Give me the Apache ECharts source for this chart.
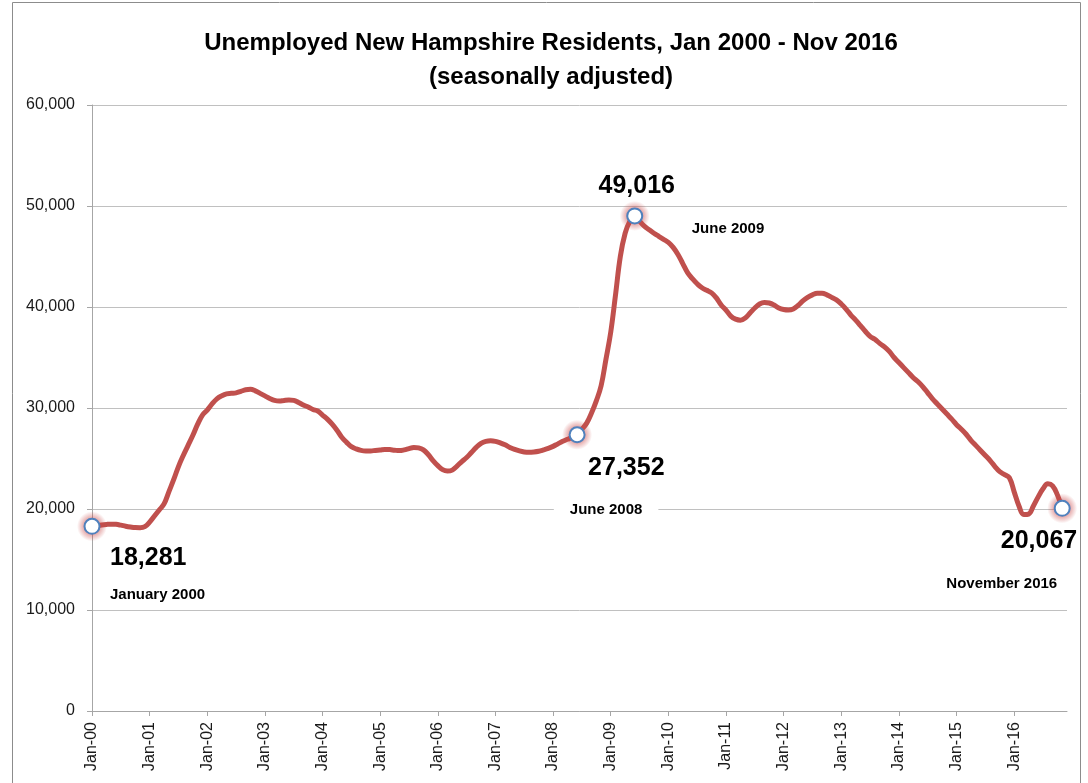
<!DOCTYPE html>
<html>
<head>
<meta charset="utf-8">
<title>Unemployed New Hampshire Residents</title>
<script src="https://cdn.jsdelivr.net/npm/echarts@6/dist/echarts.min.js"></script>
<style>
  html, body { margin: 0; padding: 0; background: #ffffff; }
  #chart { width: 1088px; height: 783px; }
</style>
</head>
<body>
<div id="chart"></div>
<script>
// Monthly unemployed residents, seasonally adjusted, one array per calendar year
const y2000 = [18281, 18350, 18420, 18470, 18500, 18480, 18400, 18300, 18220, 18160, 18150, 18250];
const y2001 = [18700, 19300, 19900, 20500, 21700, 22900, 24200, 25300, 26300, 27300, 28400, 29300];
const y2002 = [29800, 30400, 30900, 31200, 31400, 31450, 31500, 31650, 31800, 31850, 31700, 31450];
const y2003 = [31200, 30950, 30750, 30690, 30750, 30790, 30750, 30550, 30300, 30100, 29850, 29700];
const y2004 = [29300, 28900, 28400, 27800, 27100, 26600, 26170, 25950, 25800, 25740, 25750, 25800];
const y2005 = [25850, 25900, 25880, 25820, 25780, 25850, 25980, 26100, 26050, 25850, 25400, 24800];
const y2006 = [24300, 23900, 23760, 23850, 24250, 24700, 25100, 25600, 26100, 26500, 26700, 26760];
const y2007 = [26700, 26550, 26350, 26100, 25900, 25750, 25650, 25620, 25650, 25720, 25850, 26000];
const y2008 = [26200, 26450, 26700, 26900, 27100, 27352, 27900, 28500, 29500, 30700, 32200, 34800];
const y2009 = [37500, 41200, 45000, 47300, 48500, 49016, 48500, 48000, 47650, 47300, 47000, 46700];
const y2010 = [46400, 45900, 45200, 44300, 43400, 42800, 42300, 41900, 41650, 41400, 40900, 40200];
const y2011 = [39700, 39100, 38800, 38700, 38900, 39400, 39900, 40300, 40450, 40400, 40200, 39900];
const y2012 = [39750, 39700, 39800, 40150, 40600, 40950, 41200, 41350, 41350, 41200, 40950, 40700];
const y2013 = [40300, 39800, 39200, 38700, 38150, 37600, 37100, 36800, 36400, 36050, 35600, 35000];
const y2014 = [34500, 34000, 33500, 33000, 32600, 32100, 31500, 30900, 30400, 29900, 29400, 28900];
const y2015 = [28350, 27900, 27400, 26800, 26300, 25800, 25300, 24800, 24200, 23700, 23400, 23100];
const y2016 = [21700, 20300, 19450, 19500, 20300, 21200, 22000, 22500, 22300, 21400, 20067];

// Category labels: month abbreviation + two-digit year
const monthAbbr = ['Jan', 'Feb', 'Mar', 'Apr', 'May', 'Jun', 'Jul', 'Aug', 'Sep', 'Oct', 'Nov', 'Dec'];
const years = [2000, 2001, 2002, 2003, 2004, 2005, 2006, 2007, 2008, 2009, 2010, 2011, 2012, 2013, 2014, 2015, 2016];

// Called-out months and their captions
const calloutMonths = ['Jan-00', 'Jun-08', 'Jun-09', 'Nov-16'];
const calloutCaptions = ['January 2000', 'June 2008', 'June 2009', 'November 2016'];

const title = 'Unemployed New Hampshire Residents, Jan 2000 - Nov 2016';
const subtitle = '(seasonally adjusted)';

const unemployed = [].concat(y2000, y2001, y2002, y2003, y2004, y2005, y2006, y2007,
  y2008, y2009, y2010, y2011, y2012, y2013, y2014, y2015, y2016);

const months = [];
years.forEach(function (yr) {
  monthAbbr.forEach(function (m) {
    months.push(m + '-' + String(yr % 100).padStart(2, '0'));
  });
});

const fmt = function (v) { return Number(v).toLocaleString('en-US'); };

const FONT = "'Liberation Sans', Arial, sans-serif";

// Per-callout label placement
const valueLabelStyle = [
  { align: 'left', offset: [18, 32] },
  { align: 'left', offset: [11, 33] },
  { align: 'center', offset: [2, -30] },
  { align: 'right', offset: [15, 33] }
];
const captionLabelStyle = [
  { align: 'left', offset: [18, 68], bg: null },
  { align: 'center', offset: [29, 75], bg: '#ffffff' },
  { align: 'left', offset: [57, 13], bg: null },
  { align: 'right', offset: [-5, 76], bg: null }
];

const calloutPoints = calloutMonths.map(function (m) {
  const idx = months.indexOf(m);
  return [m, unemployed[idx]];
});

const valuePoints = calloutPoints.map(function (p, i) {
  return {
    value: p,
    label: {
      show: true,
      position: 'inside',
      formatter: fmt(p[1]),
      align: valueLabelStyle[i].align,
      verticalAlign: 'middle',
      offset: valueLabelStyle[i].offset,
      fontFamily: FONT,
      fontWeight: 'bold',
      fontSize: 25,
      color: '#000000'
    }
  };
});

const captionPoints = calloutPoints.map(function (p, i) {
  const s = captionLabelStyle[i];
  return {
    value: p,
    label: {
      show: true,
      position: 'inside',
      formatter: calloutCaptions[i],
      align: s.align,
      verticalAlign: 'middle',
      offset: s.offset,
      fontFamily: FONT,
      fontWeight: 'bold',
      fontSize: 15,
      color: '#000000',
      backgroundColor: s.bg || 'transparent',
      padding: s.bg ? [4, 16, 4, 16] : 0
    }
  };
});

// Soft red halo behind each callout marker
const glowFill = new echarts.graphic.RadialGradient(0.5, 0.5, 0.5, [
  { offset: 0, color: 'rgba(200, 70, 70, 0.8)' },
  { offset: 0.55, color: 'rgba(200, 70, 70, 0.45)' },
  { offset: 1, color: 'rgba(200, 70, 70, 0)' }
]);

const chart = echarts.init(document.getElementById('chart'), null, { renderer: 'canvas' });

chart.setOption({
  backgroundColor: '#ffffff',
  animation: false,
  title: {
    text: title + '\n' + subtitle,
    left: 546,
    top: 21,
    textAlign: 'center',
    textStyle: {
      fontFamily: FONT,
      fontWeight: 'bold',
      fontSize: 24,
      lineHeight: 34,
      color: '#000000',
      align: 'center'
    }
  },
  graphic: [{
    type: 'rect',
    silent: true,
    shape: { x: 12.5, y: 2.5, width: 1068, height: 800 },
    style: { fill: 'none', stroke: '#8c8c8c', lineWidth: 1 }
  }],
  grid: { left: 92, right: 21, top: 105, bottom: 72, containLabel: false },
  xAxis: {
    type: 'category',
    data: months.concat(['Dec-16']).slice(0, 204),
    boundaryGap: false,
    axisLine: { show: true, lineStyle: { color: '#a6a6a6', width: 1 } },
    axisTick: {
      show: true,
      length: 5,
      inside: false,
      interval: function (i) { return i % 12 === 0; },
      lineStyle: { color: '#a6a6a6' }
    },
    axisLabel: {
      rotate: 90,
      margin: 11,
      interval: function (i) { return i % 12 === 0; },
      fontFamily: FONT,
      fontSize: 16,
      color: '#1a1a1a'
    },
    splitLine: { show: false }
  },
  yAxis: {
    type: 'value',
    min: 0,
    max: 60000,
    interval: 10000,
    axisLine: { show: true, lineStyle: { color: '#a6a6a6', width: 1 } },
    axisTick: { show: true, length: 5, inside: false, lineStyle: { color: '#a6a6a6' } },
    axisLabel: {
      margin: 17,
      formatter: fmt,
      fontFamily: FONT,
      fontSize: 16,
      color: '#1a1a1a'
    },
    splitLine: { show: true, lineStyle: { color: '#c0c0c0', width: 1 } }
  },
  series: [
    {
      name: 'Unemployed',
      type: 'line',
      data: unemployed,
      smooth: 0.4,
      showSymbol: false,
      symbol: 'none',
      lineStyle: { color: '#c0504d', width: 5, cap: 'round', join: 'round' },
      z: 2
    },
    {
      name: 'Callout halo',
      type: 'scatter',
      data: calloutPoints,
      symbol: 'circle',
      symbolSize: 30,
      itemStyle: { color: glowFill, opacity: 1 },
      silent: true,
      z: 3
    },
    {
      name: 'Callout values',
      type: 'scatter',
      data: valuePoints,
      symbol: 'circle',
      symbolSize: 15,
      itemStyle: {
        color: '#ffffff',
        opacity: 1,
        borderColor: '#4f81bd',
        borderWidth: 2
      },
      z: 5
    },
    {
      name: 'Callout captions',
      type: 'scatter',
      data: captionPoints,
      symbol: 'circle',
      symbolSize: 1,
      itemStyle: { color: 'rgba(0,0,0,0)', opacity: 1 },
      z: 4
    }
  ]
});
</script>
</body>
</html>
